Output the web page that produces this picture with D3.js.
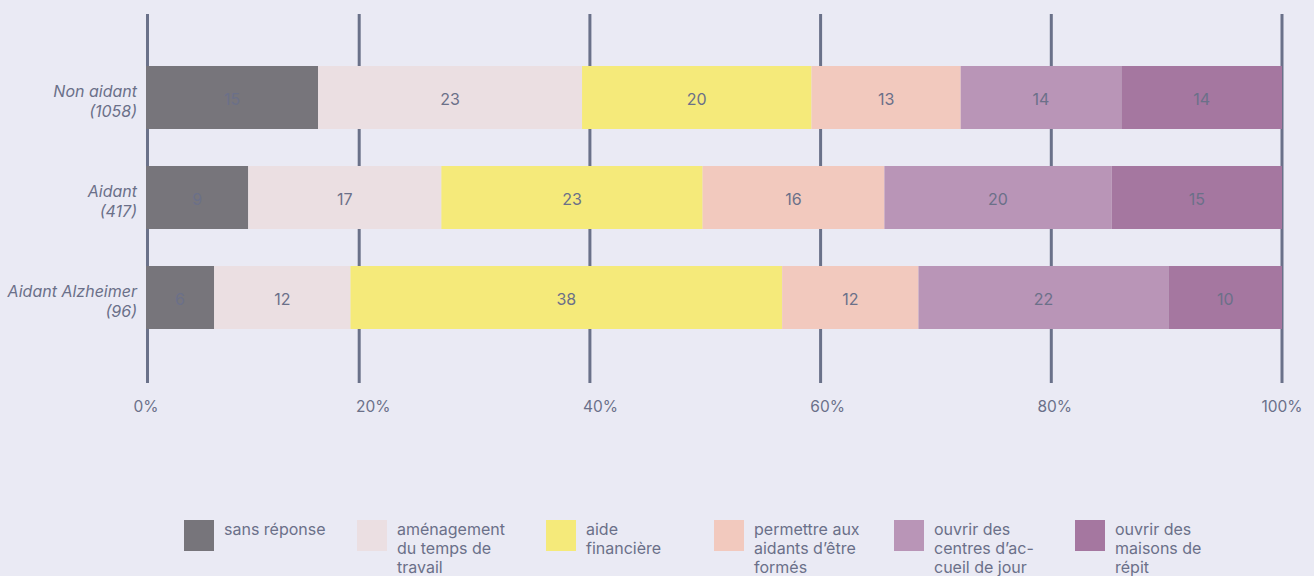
<!DOCTYPE html>
<html>
<head>
<meta charset="utf-8">
<script src="https://cdn.jsdelivr.net/npm/d3@7"></script>
<style>
  html, body { margin: 0; padding: 0; background: #eaeaf4; }
  svg { display: block; font-family: Inter, "Noto Sans", sans-serif; }
</style>
</head>
<body>
<div class="chart"></div>
<script>
// data
const groups = ["Non aidant\n(1058)", "Aidant\n(417)", "Aidant Alzheimer\n(96)"];
const series = ["sans réponse", "aménagement\ndu temps de\ntravail", "aide\nfinancière",
    "permettre aux\naidants d’être\nformés", "ouvrir des\ncentres d’ac-\ncueil de jour", "ouvrir des\nmaisons de\nrépit"];
const sansReponse = [15, 9, 6];
const amenagement = [23, 17, 12];
const aideFinanciere = [20, 23, 38];
const permettre = [13, 16, 12];
const centres = [14, 20, 22];
const maisons = [14, 15, 10];
const xTicks = [0, 20, 40, 60, 80, 100];

const colors = ["#77757b", "#ebdfe2", "#f5ea7a", "#f2c9be", "#b995b7", "#a577a0"];
const textColor = "#6b7089";
const gridColor = "#6a7189";

const width = 1314, height = 576;
// legend items sit in a flex row in the original, so spacing is uneven
const legendX = [184, 357, 546, 714, 894, 1075];

const svg = d3.select(".chart").append("svg")
    .attr("width", width)
    .attr("height", height);

const allSeries = [sansReponse, amenagement, aideFinanciere, permettre, centres, maisons];
const table = groups.map((g, i) => {
    const row = {group: g};
    series.forEach((s, j) => row[s] = allSeries[j][i]);
    return row;
});

const stack = d3.stack().keys(series).offset(d3.stackOffsetExpand);
const stacked = stack(table);

const xScale = d3.scaleLinear().domain([0, 1]).range([146, 1282]);
// grid lines in the original are spaced a little differently from the bars
const gridScale = d3.scaleLinear().domain([0, 100]).range([128.5, 1282]);

const yScale = d3.scaleBand()
    .domain(groups)
    .range([29, 366])
    .padding(0.37);

// grid
svg.append("g")
    .selectAll("line")
    .data(xTicks)
    .join("line")
    .attr("x1", d => d == 0 ? 147.5 : gridScale(d))
    .attr("x2", d => d == 0 ? 147.5 : gridScale(d))
    .attr("y1", 14)
    .attr("y2", 383)
    .attr("stroke", gridColor)
    .attr("stroke-width", 3);

// bars
const layers = svg.append("g")
    .selectAll("g")
    .data(stacked)
    .join("g")
    .attr("fill", (d, i) => colors[i]);

layers.selectAll("rect")
    .data(d => d)
    .join("rect")
    .attr("x", d => xScale(d[0]))
    .attr("y", d => yScale(d.data.group))
    .attr("width", d => xScale(d[1]) - xScale(d[0]))
    .attr("height", yScale.bandwidth());

layers.selectAll("text")
    .data(d => d.map(v => ({key: d.key, v: v})))
    .join("text")
    .attr("x", d => (xScale(d.v[0]) + xScale(d.v[1])) / 2)
    .attr("y", d => yScale(d.v.data.group) + yScale.bandwidth() / 2 + 3.5)
    .attr("text-anchor", "middle")
    .attr("dominant-baseline", "middle")
    .attr("fill", textColor)
    .attr("font-size", 16)
    .text(d => d.v.data[d.key]);

// y labels
const yLabels = svg.append("g")
    .selectAll("text")
    .data(groups)
    .join("text")
    .attr("text-anchor", "end")
    .attr("font-style", "italic")
    .attr("font-size", 16)
    .attr("fill", textColor);

yLabels.selectAll("tspan")
    .data(d => d.split("\n").map((t, i, a) => ({t: t, i: i, n: a.length, g: d})))
    .join("tspan")
    .attr("x", 137)
    .attr("y", d => yScale(d.g) + yScale.bandwidth() / 2 + (d.i - (d.n - 1) / 2) * 20 + 9)
    .text(d => d.t);

// x tick labels
svg.append("g")
    .selectAll("text")
    .data(xTicks)
    .join("text")
    .attr("x", d => xScale(d / 100))
    .attr("y", 412)
    .attr("text-anchor", "middle")
    .attr("font-size", 15.5)
    .attr("fill", textColor)
    .text(d => d + "%");

// legend
const legend = svg.append("g")
    .selectAll("g")
    .data(series)
    .join("g")
    .attr("transform", (d, i) => `translate(${legendX[i]},520)`);

legend.append("rect")
    .attr("width", 30)
    .attr("height", 31)
    .attr("fill", (d, i) => colors[i]);

legend.append("text")
    .attr("font-size", 16)
    .attr("fill", textColor)
    .selectAll("tspan")
    .data(d => d.split("\n"))
    .join("tspan")
    .attr("x", 40)
    .attr("y", (d, i) => 15 + i * 19)
    .text(d => d);
</script>
</body>
</html>
